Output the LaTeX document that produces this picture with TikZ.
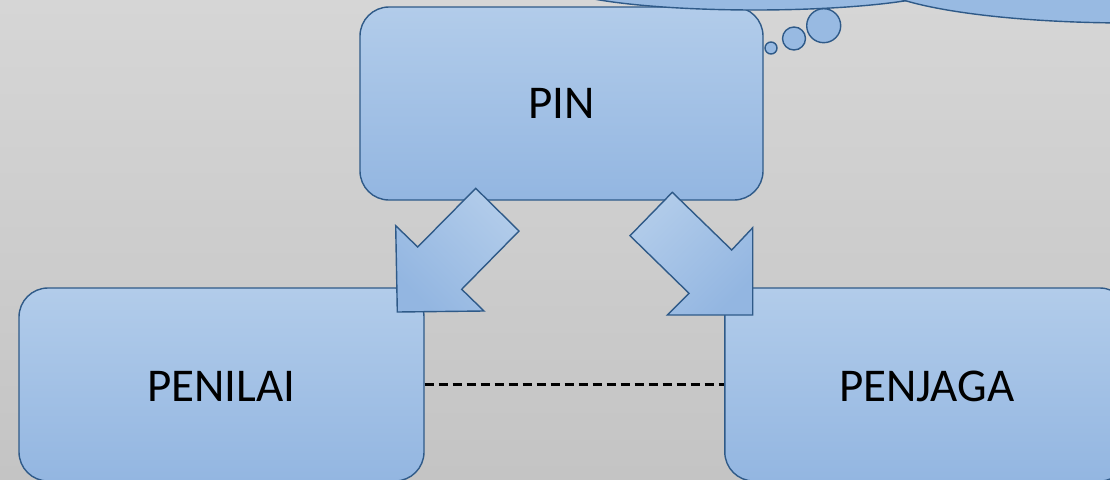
\documentclass[tikz,border=0pt]{standalone}
\usepackage{fontspec}
\setmainfont{Carlito}
\definecolor{bgtop}{HTML}{D6D6D6}
\definecolor{bgbot}{HTML}{C4C4C4}
\definecolor{boxtop}{HTML}{B2CCEA}
\definecolor{boxbot}{HTML}{93B6E1}
\definecolor{edge}{HTML}{2F5A88}
\definecolor{cloudfill}{HTML}{98BAE2}
\tikzset{
  roundbox/.style={rectangle, draw=edge, line width=1.4pt, rounded corners=29pt,
    top color=boxtop, bottom color=boxbot, inner sep=0pt,
    font=\fontsize{47}{52}\selectfont, text=black, text depth=0pt},
  blockarrow/.style={draw=edge, line width=1.4pt, line join=miter},
  bubble/.style={draw=edge, line width=1.4pt, fill=cloudfill},
  link/.style={draw=black, line width=2.1pt, dash pattern=on 9pt off 5pt}
}
\begin{document}
\begin{tikzpicture}[x=1pt,y=-1pt]
\useasboundingbox (0,0) rectangle (1110,479);
\clip (0,0) rectangle (1110,479);
\shade[top color=bgtop, bottom color=bgbot] (0,0) rectangle (1110,479);

% boxes
\node[roundbox, minimum width=403pt, minimum height=193pt, text height=29pt] (pin) at (561.5,103.5) {PIN};
\node[roundbox, minimum width=405pt, minimum height=193pt, text height=34pt] (penilai) at (221.5,384.5) {PENILAI};
\node[roundbox, minimum width=404pt, minimum height=193pt, text height=34pt] (penjaga) at (926.8,384.5) {PENJAGA};

% dashed link
\draw[link] (penilai.east) -- (penjaga.west);

% block arrows
\path[blockarrow, top color=boxtop, bottom color=boxbot, shading angle=-45]
  (475.7,188.3) -- (519,231) -- (461.7,289.3) -- (484,311) -- (397.3,312)
  -- (395.7,225.7) -- (417.7,247) -- cycle;
\path[blockarrow, top color=boxtop, bottom color=boxbot, shading angle=45]
  (672.3,192.3) -- (630,235.7) -- (689,293.3) -- (667.3,315) -- (752.7,315)
  -- (752.7,227.7) -- (731.7,250) -- cycle;

% thought cloud
\path[bubble] (755,-17) ellipse [x radius=200pt, y radius=27pt];
\path[bubble] (1130,-22) ellipse [x radius=260pt, y radius=45pt];
\node[bubble, circle, inner sep=0pt, minimum size=34pt] (b3) at (823.7,25.7) {};
\node[bubble, circle, inner sep=0pt, minimum size=23pt] (b2) at (794,38.5) {};
\node[bubble, circle, inner sep=0pt, minimum size=12pt] (b1) at (771,48) {};
\end{tikzpicture}
\end{document}
